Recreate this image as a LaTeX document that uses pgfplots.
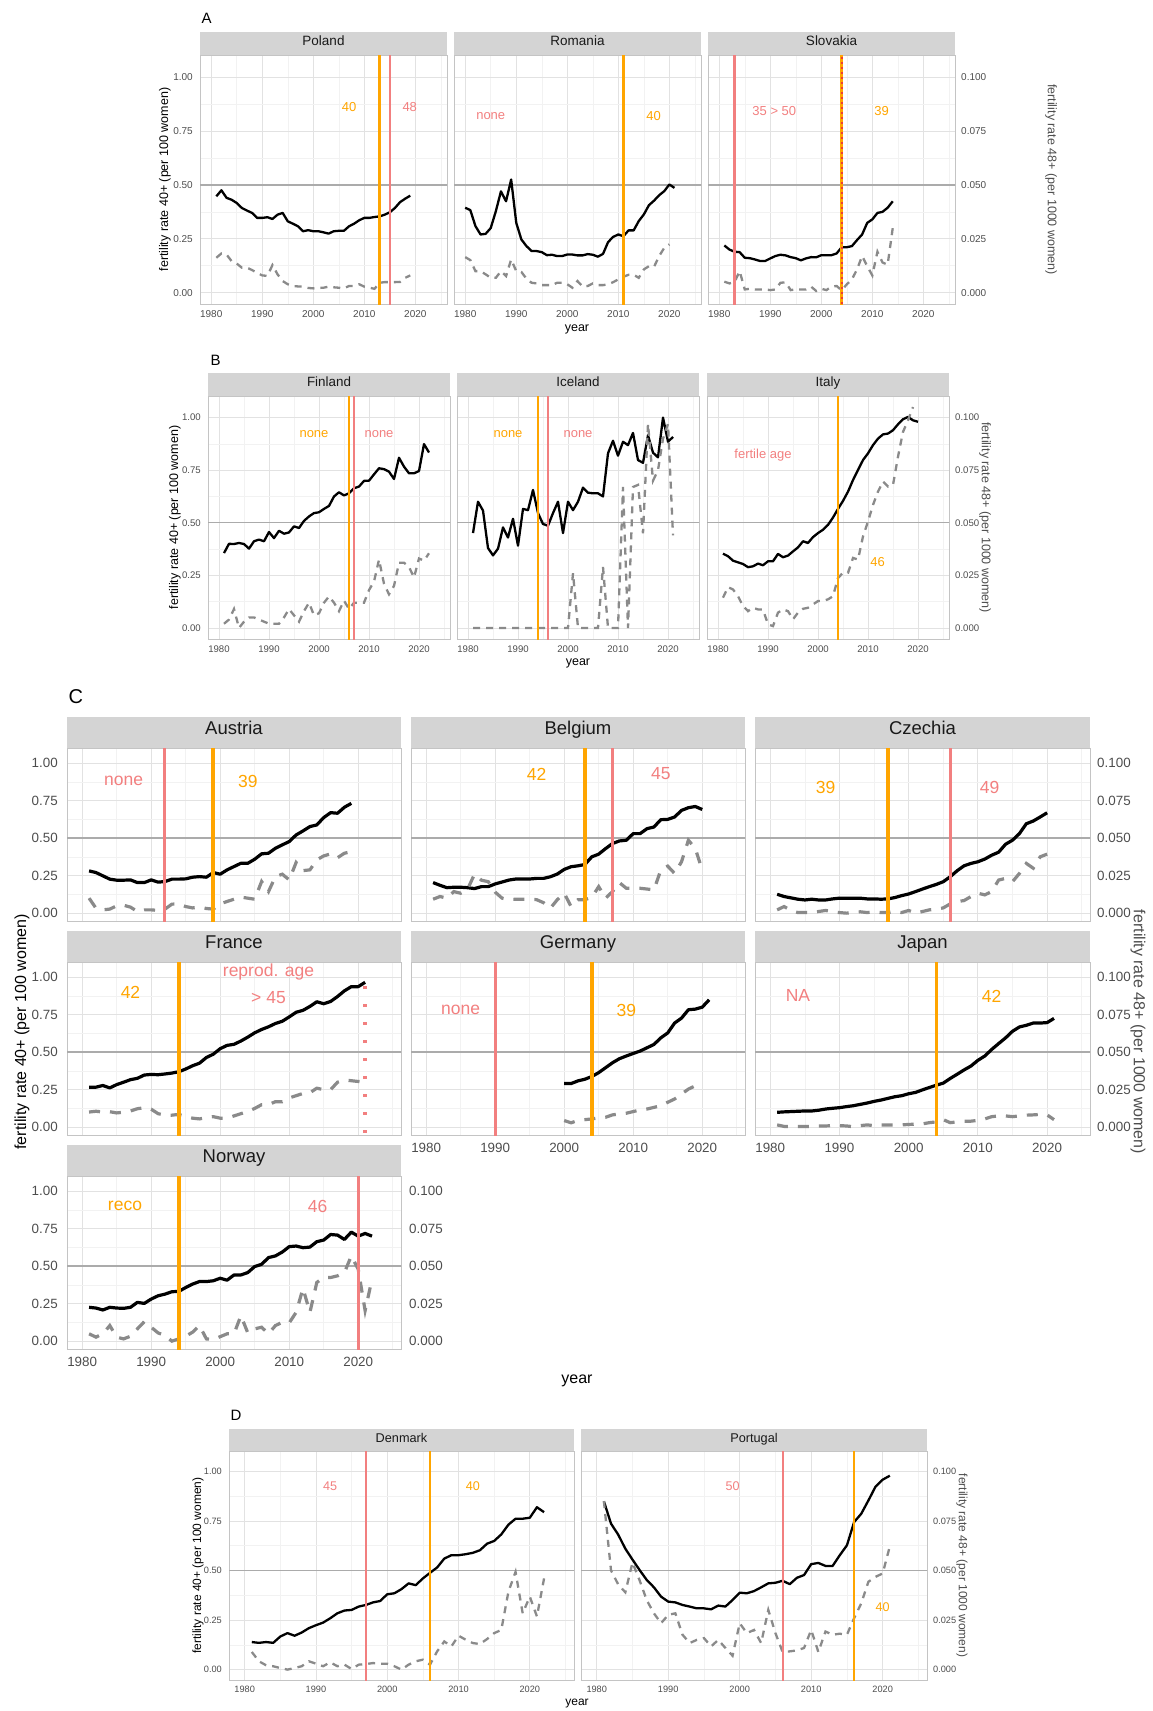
\documentclass[border=0pt]{standalone}
\usepackage{fontspec}
\setmainfont{Liberation Sans}
\usepackage{pgfplots}
\pgfplotsset{compat=1.18}
\definecolor{vorange}{HTML}{FFA500}
\definecolor{vred}{HTML}{F27F7F}
\definecolor{vdot}{HTML}{F03C32}
\definecolor{dgray}{HTML}{8A8A8A}
\definecolor{stripfill}{HTML}{D4D4D4}
\definecolor{gridmaj}{HTML}{E2E2E2}
\definecolor{gridmin}{HTML}{F2F2F2}
\definecolor{bordc}{HTML}{C4C4C4}
\definecolor{hlc}{HTML}{ABABAB}
\definecolor{ticktxt}{HTML}{4D4D4D}
\newcommand{\fs}[1]{\fontsize{#1}{#1}\selectfont}
\newcommand{\annfont}{\fs{13}}
\newcommand{\vlw}{2.6pt}
\newcommand{\vrw}{2.2pt}
\newcommand{\hlw}{1.3pt}
\newcommand{\hl}{\addplot[draw=hlc, line width=\hlw] coordinates {(1970,0.5)(2030,0.5)};}
\newcommand{\vo}[1]{\addplot[draw=vorange, line width=\vlw] coordinates {(#1,-0.1)(#1,1.2)};}
\newcommand{\vr}[1]{\addplot[draw=vred, line width=\vrw] coordinates {(#1,-0.1)(#1,1.2)};}
\newcommand{\ann}[4]{\node[text=#1, font=\annfont] at (axis cs:#2,#3) {#4};}
\tikzset{
  solA/.style={black, line width=2.3pt, line join=round, mark=none},
  dasA/.style={dgray, line width=2.3pt, dash pattern=on 7pt off 6pt, mark=none},
  solC/.style={black, line width=3.2pt, line join=round, mark=none},
  dasC/.style={dgray, line width=3.2pt, dash pattern=on 11pt off 10pt, mark=none},
}
\pgfplotsset{
  facet/.style={
    scale only axis, anchor=south west, clip mode=individual,
    xmin=1977.8, xmax=2026.2, ymin=-0.0525, ymax=1.1025,
    xtick={1980,1990,2000,2010,2020},
    minor xtick={1985,1995,2005,2015,2025},
    ytick={0,0.25,0.5,0.75,1},
    minor ytick={0.125,0.375,0.625,0.875},
    xticklabels={1980,1990,2000,2010,2020},
    yticklabels={0.00,0.25,0.50,0.75,1.00},
    grid=both,
    major grid style={draw=gridmaj, line width=0.8pt},
    minor grid style={draw=gridmin, line width=0.5pt},
    axis line style={draw=bordc, line width=0.8pt},
    major tick length=0pt, minor tick length=0pt,
    tick label style={text=ticktxt, inner sep=0pt},
    every axis title/.style={at={(0.5,1)}, anchor=south, fill=stripfill, inner sep=0pt, text=black!90, text height=0.72em, text depth=0.2em},
  },
  nox/.style={xticklabels={}},
  noy/.style={yticklabels={}},
  rlab/.style={yticklabel pos=right, yticklabels={0.000,0.025,0.050,0.075,0.100}},
  sA/.style={width=247pt, height=249pt, tick label style={font=\fs{10}},
    title style={font=\fs{13.5}, minimum height=23pt, minimum width=247pt},
    xticklabel style={anchor=center, yshift=-10pt}},
  sB/.style={width=242pt, height=243pt, tick label style={font=\fs{9.6}},
    title style={font=\fs{13.4}, minimum height=23pt, minimum width=242pt},
    xticklabel style={anchor=center, yshift=-10pt}},
  sC/.style={width=334pt, height=173pt, tick label style={font=\fs{13.4}},
    title style={font=\fs{18.5}, minimum height=31pt, minimum width=334pt},
    xticklabel style={anchor=center, yshift=-13pt}},
  sD/.style={width=345pt, height=229pt, tick label style={font=\fs{9.2}},
    title style={font=\fs{12.7}, minimum height=22pt, minimum width=345pt},
    xticklabel style={anchor=center, yshift=-9pt}},
  ylA/.style={yticklabel style={anchor=east, xshift=-7pt}},
  yrA/.style={rlab, yticklabel style={anchor=west, xshift=6pt}},
  ylC/.style={yticklabel style={anchor=east, xshift=-9pt}},
  yrC/.style={rlab, yticklabel style={anchor=west, xshift=7pt}},
}
\begin{document}
\begin{tikzpicture}
\path[use as bounding box] (0pt,0pt) rectangle (1153pt,-1711pt);
% ================= PANEL A =================
\node[anchor=west, font=\fs{15}] at (198pt,-18pt) {A};
\node[rotate=90, font=\fs{12.5}] at (165pt,-179.5pt) {fertility rate 40+ (per 100 women)};
\node[rotate=-90, font=\fs{12.5}, text=ticktxt] at (1051pt,-179.5pt) {fertility rate 48+ (per 1000 women)};
\node[font=\fs{12.5}] at (577pt,-329pt) {year};
\begin{axis}[facet, sA, ylA, at={(200pt,-304pt)}, title={Poland}]
\hl
\addplot[solA] coordinates {(1981,.447)(1982,.475)(1983,.44)(1984,.431)(1985,.416)(1986,.393)(1987,.381)(1988,.37)(1989,.347)(1990,.347)(1991,.35)(1992,.342)(1993,.362)(1994,.37)(1995,.331)(1996,.32)(1997,.308)(1998,.285)(1999,.29)(2000,.285)(2001,.285)(2002,.28)(2003,.274)(2004,.285)(2005,.287)(2006,.287)(2007,.308)(2008,.32)(2009,.336)(2010,.347)(2011,.347)(2012,.351)(2013,.354)(2014,.362)(2015,.373)(2016,.393)(2017,.42)(2018,.436)(2019,.45)};
\addplot[dasA] coordinates {(1981,.162)(1982,.182)(1983,.177)(1984,.146)(1985,.135)(1986,.116)(1987,.116)(1988,.105)(1989,.092)(1990,.08)(1991,.078)(1992,.128)(1993,.085)(1994,.054)(1995,.039)(1996,.031)(1997,.029)(1998,.028)(1999,.022)(2000,.02)(2001,.022)(2002,.023)(2003,.028)(2004,.025)(2005,.023)(2006,.02)(2007,.031)(2008,.031)(2009,.039)(2010,.028)(2011,.023)(2012,.018)(2013,.046)(2014,.049)(2015,.049)(2016,.049)(2017,.05)(2018,.069)(2019,.08)};
\vo{2013}\vr{2015}
\ann{vorange}{2007}{0.863}{40}
\ann{vred}{2018.9}{0.863}{48}
\end{axis}
\begin{axis}[facet, sA, noy, at={(454pt,-304pt)}, title={Romania}]
\hl
\addplot[solA] coordinates {(1980,.394)(1981,.383)(1982,.309)(1983,.27)(1984,.273)(1985,.30)(1986,.378)(1987,.47)(1988,.424)(1989,.525)(1990,.324)(1991,.247)(1992,.216)(1993,.193)(1994,.193)(1995,.188)(1996,.174)(1997,.176)(1998,.17)(1999,.17)(2000,.177)(2001,.177)(2002,.173)(2003,.173)(2004,.179)(2005,.176)(2006,.167)(2007,.18)(2008,.235)(2009,.259)(2010,.27)(2011,.262)(2012,.289)(2013,.289)(2014,.332)(2015,.363)(2016,.406)(2017,.427)(2018,.452)(2019,.471)(2020,.502)(2021,.486)};
\addplot[dasA] coordinates {(1980,.165)(1981,.151)(1982,.100)(1983,.100)(1984,.085)(1985,.069)(1986,.069)(1987,.100)(1988,.077)(1989,.154)(1990,.100)(1991,.096)(1992,.065)(1993,.046)(1994,.043)(1995,.035)(1996,.035)(1997,.035)(1998,.046)(1999,.046)(2000,.039)(2001,.023)(2002,.054)(2003,.028)(2004,.031)(2005,.043)(2006,.035)(2007,.035)(2008,.039)(2009,.049)(2010,.062)(2011,.074)(2012,.083)(2013,.083)(2014,.069)(2015,.108)(2016,.123)(2017,.120)(2018,.170)(2019,.208)(2020,.224)};
\vo{2011}
\ann{vred}{1985}{0.82}{none}
\ann{vorange}{2016.9}{0.82}{40}
\end{axis}
\begin{axis}[facet, sA, yrA, at={(708pt,-304pt)}, title={Slovakia}]
\hl
\addplot[solA] coordinates {(1981,.219)(1982,.20)(1983,.19)(1984,.188)(1985,.162)(1986,.16)(1987,.154)(1988,.147)(1989,.147)(1990,.159)(1991,.17)(1992,.176)(1993,.173)(1994,.165)(1995,.16)(1996,.15)(1997,.159)(1998,.165)(1999,.164)(2000,.174)(2001,.174)(2002,.174)(2003,.182)(2004,.211)(2005,.211)(2006,.216)(2007,.244)(2008,.27)(2009,.324)(2010,.34)(2011,.37)(2012,.375)(2013,.394)(2014,.424)};
\addplot[dasA] coordinates {(1981,.051)(1982,.043)(1983,.049)(1984,.10)(1985,.015)(1986,.018)(1987,.015)(1988,.015)(1989,.015)(1990,.012)(1991,.015)(1992,.046)(1993,.048)(1994,.012)(1995,.015)(1996,.015)(1997,.015)(1998,.028)(1999,.008)(2000,.018)(2001,.012)(2002,.028)(2003,.031)(2004,.011)(2005,.039)(2006,.062)(2007,.108)(2008,.17)(2009,.123)(2010,.08)(2011,.19)(2012,.14)(2013,.13)(2014,.30)};
\vr{1983}\vo{2004}
\addplot[draw=vdot, line width=1.6pt, dash pattern=on 2pt off 3pt] coordinates {(2004,-0.1)(2004,1.2)};
\ann{vred}{1990.8}{0.844}{35 > 50}
\ann{vorange}{2011.8}{0.844}{39}
\end{axis}
% ================= PANEL B =================
\node[anchor=west, font=\fs{15}] at (207pt,-360pt) {B};
\node[rotate=90, font=\fs{12.5}] at (175pt,-517.5pt) {fertility rate 40+ (per 100 women)};
\node[rotate=-90, font=\fs{12.5}, text=ticktxt] at (985pt,-517.5pt) {fertility rate 48+ (per 1000 women)};
\node[font=\fs{12.5}] at (578pt,-663pt) {year};
\begin{axis}[facet, sB, ylA, at={(208pt,-639pt)}, title={Finland}]
\hl
\addplot[solA] coordinates {(1981,.356)(1982,.40)(1983,.399)(1984,.404)(1985,.399)(1986,.377)(1987,.412)(1988,.42)(1989,.412)(1990,.456)(1991,.427)(1992,.462)(1993,.448)(1994,.454)(1995,.483)(1996,.475)(1997,.509)(1998,.53)(1999,.546)(2000,.55)(2001,.566)(2002,.58)(2003,.625)(2004,.645)(2005,.63)(2006,.64)(2007,.664)(2008,.672)(2009,.699)(2010,.70)(2011,.73)(2012,.759)(2013,.755)(2014,.743)(2015,.708)(2016,.809)(2017,.767)(2018,.735)(2019,.735)(2020,.746)(2021,.874)(2022,.834)};
\addplot[dasA] coordinates {(1981,.02)(1982,.04)(1983,.09)(1984,0)(1985,.03)(1986,.05)(1987,.05)(1988,.04)(1989,.03)(1990,.02)(1991,.02)(1992,.02)(1993,.05)(1994,.09)(1995,.06)(1996,.03)(1997,.08)(1998,.12)(1999,.06)(2000,.07)(2001,.12)(2002,.15)(2003,.12)(2004,.08)(2005,.13)(2006,.09)(2007,.12)(2008,.12)(2009,.12)(2010,.18)(2011,.22)(2012,.325)(2013,.21)(2014,.16)(2015,.2)(2016,.31)(2017,.31)(2018,.29)(2019,.24)(2020,.33)(2021,.32)(2022,.355)};
\vo{2006}\vr{2007}
\ann{vorange}{1999}{0.92}{none}
\ann{vred}{2012}{0.92}{none}
\end{axis}
\begin{axis}[facet, sB, noy, at={(457pt,-639pt)}, title={Iceland}]
\hl
\addplot[solA] coordinates {(1981,.451)(1982,.60)(1983,.558)(1984,.38)(1985,.345)(1986,.377)(1987,.478)(1988,.43)(1989,.519)(1990,.391)(1991,.566)(1992,.56)(1993,.656)(1994,.546)(1995,.494)(1996,.486)(1997,.546)(1998,.60)(1999,.451)(2000,.60)(2001,.56)(2002,.60)(2003,.667)(2004,.643)(2005,.64)(2006,.64)(2007,.625)(2008,.83)(2009,.89)(2010,.819)(2011,.885)(2012,.869)(2013,.927)(2014,.798)(2015,.785)(2016,.916)(2017,.833)(2018,.811)(2019,1.00)(2020,.885)(2021,.908)};
\addplot[dasA] coordinates {(1981,0)(1982,0)(1983,0)(1984,0)(1985,0)(1986,0)(1987,0)(1988,0)(1989,0)(1990,0)(1991,0)(1992,0)(1993,0)(1994,0)(1995,0)(1996,0)(1997,0)(1998,0)(1999,0)(2000,0)(2001,.26)(2002,0)(2003,0)(2004,0)(2005,0)(2006,0)(2007,.29)(2008,0)(2009,0)(2010,0)(2011,.67)(2012,0)(2013,.67)(2014,.68)(2015,.45)(2016,.97)(2017,.70)(2018,.75)(2019,.90)(2020,.97)(2021,.44)};
\vo{1994}\vr{1996}
\ann{vorange}{1988}{0.92}{none}
\ann{vred}{2002}{0.92}{none}
\end{axis}
\begin{axis}[facet, sB, yrA, at={(707pt,-639pt)}, title={Italy}]
\hl
\addplot[solA] coordinates {(1981,.353)(1982,.341)(1983,.32)(1984,.312)(1985,.304)(1986,.289)(1987,.293)(1988,.306)(1989,.298)(1990,.317)(1991,.317)(1992,.352)(1993,.336)(1994,.344)(1995,.364)(1996,.383)(1997,.412)(1998,.404)(1999,.432)(2000,.451)(2001,.467)(2002,.49)(2003,.525)(2004,.566)(2005,.604)(2006,.648)(2007,.703)(2008,.751)(2009,.798)(2010,.83)(2011,.869)(2012,.90)(2013,.92)(2014,.924)(2015,.94)(2016,.968)(2017,.992)(2018,1.003)(2019,.987)(2020,.98)};
\addplot[dasA] coordinates {(1981,.144)(1982,.194)(1983,.183)(1984,.151)(1985,.104)(1986,.08)(1987,.096)(1988,.088)(1989,.088)(1990,.017)(1991,.009)(1992,.073)(1993,.088)(1994,.08)(1995,.041)(1996,.073)(1997,.091)(1998,.096)(1999,.112)(2000,.128)(2001,.128)(2002,.136)(2003,.151)(2004,.238)(2005,.262)(2006,.262)(2007,.333)(2008,.325)(2009,.435)(2010,.506)(2011,.585)(2012,.648)(2013,.696)(2014,.672)(2015,.68)(2016,.814)(2017,.932)(2018,.987)(2019,1.05)};
\vo{2004}
\ann{vred}{1989}{0.822}{fertile age}
\ann{vorange}{2011.9}{0.312}{46}
\end{axis}
% ================= PANEL C =================
\renewcommand{\annfont}{\fs{17.5}}
\renewcommand{\vlw}{3.6pt}
\renewcommand{\vrw}{3.0pt}
\renewcommand{\hlw}{1.8pt}
\node[anchor=west, font=\fs{20}] at (65pt,-697pt) {C};
\node[rotate=90, font=\fs{16}] at (22pt,-1032pt) {fertility rate 40+ (per 100 women)};
\node[rotate=-90, font=\fs{16}, text=ticktxt] at (1138pt,-1032pt) {fertility rate 48+ (per 1000 women)};
\node[font=\fs{16}] at (577pt,-1381pt) {year};
\begin{axis}[facet, sC, ylC, nox, at={(67pt,-921pt)}, title={Austria}]
\hl
\addplot[solC] coordinates {(1981,.282)(1982,.271)(1983,.249)(1984,.227)(1985,.22)(1986,.22)(1987,.222)(1988,.204)(1989,.204)(1990,.222)(1991,.207)(1992,.211)(1993,.227)(1994,.227)(1995,.229)(1996,.24)(1997,.244)(1998,.24)(1999,.271)(2000,.26)(2001,.289)(2002,.311)(2003,.333)(2004,.333)(2005,.36)(2006,.396)(2007,.40)(2008,.433)(2009,.456)(2010,.478)(2011,.522)(2012,.549)(2013,.578)(2014,.589)(2015,.638)(2016,.671)(2017,.667)(2018,.707)(2019,.733)};
\addplot[dasC] coordinates {(1981,.10)(1982,.033)(1983,.022)(1984,.027)(1985,.049)(1986,.053)(1987,.04)(1988,.011)(1989,.022)(1990,.022)(1991,.018)(1992,.027)(1993,.06)(1994,.062)(1995,.044)(1996,.035)(1997,.04)(1998,.031)(1999,.027)(2000,.062)(2001,.078)(2002,.093)(2003,.107)(2004,.10)(2005,.093)(2006,.211)(2007,.144)(2008,.244)(2009,.26)(2010,.222)(2011,.338)(2012,.284)(2013,.289)(2014,.356)(2015,.382)(2016,.396)(2017,.37)(2018,.40)(2019,.411)};
\vr{1992}\vo{1999}
\ann{vred}{1986}{0.882}{none}
\ann{vorange}{2004}{0.882}{39}
\end{axis}
\begin{axis}[facet, sC, noy, nox, at={(411pt,-921pt)}, title={Belgium}]
\hl
\addplot[solC] coordinates {(1981,.204)(1982,.186)(1983,.17)(1984,.173)(1985,.173)(1986,.17)(1987,.164)(1988,.177)(1989,.177)(1990,.195)(1991,.208)(1992,.221)(1993,.228)(1994,.228)(1995,.228)(1996,.232)(1997,.232)(1998,.243)(1999,.261)(2000,.292)(2001,.31)(2002,.316)(2003,.325)(2004,.376)(2005,.394)(2006,.431)(2007,.465)(2008,.482)(2009,.487)(2010,.531)(2011,.531)(2012,.564)(2013,.575)(2014,.624)(2015,.626)(2016,.642)(2017,.686)(2018,.704)(2019,.712)(2020,.692)};
\addplot[dasC] coordinates {(1981,.093)(1982,.111)(1983,.10)(1984,.144)(1985,.133)(1986,.16)(1987,.26)(1988,.22)(1989,.21)(1990,.14)(1991,.10)(1992,.09)(1993,.093)(1994,.093)(1995,.093)(1996,.09)(1997,.07)(1998,.033)(1999,.09)(2000,.133)(2001,.044)(2002,.09)(2003,.09)(2004,.106)(2005,.177)(2006,.10)(2007,.144)(2008,.204)(2009,.166)(2010,.166)(2011,.166)(2012,.161)(2013,.155)(2014,.288)(2015,.314)(2016,.265)(2017,.343)(2018,.487)(2019,.431)(2020,.288)};
\vo{2003}\vr{2007}
\ann{vorange}{1996}{0.929}{42}
\ann{vred}{2014}{0.929}{45}
\end{axis}
\begin{axis}[facet, sC, yrC, nox, at={(755pt,-921pt)}, width=335pt, title={Czechia}, title style={minimum width=335pt}]
\hl
\addplot[solC] coordinates {(1981,.126)(1982,.111)(1983,.102)(1984,.093)(1985,.088)(1986,.093)(1987,.088)(1988,.088)(1989,.095)(1990,.10)(1991,.10)(1992,.10)(1993,.10)(1994,.095)(1995,.095)(1996,.093)(1997,.095)(1998,.104)(1999,.117)(2000,.128)(2001,.144)(2002,.161)(2003,.177)(2004,.192)(2005,.21)(2006,.243)(2007,.283)(2008,.316)(2009,.332)(2010,.343)(2011,.361)(2012,.387)(2013,.407)(2014,.46)(2015,.487)(2016,.531)(2017,.597)(2018,.615)(2019,.642)(2020,.67)};
\addplot[dasC] coordinates {(1981,.022)(1982,.044)(1983,.018)(1984,.004)(1985,.004)(1986,.004)(1987,.011)(1988,.018)(1989,.009)(1990,.004)(1991,0)(1992,.004)(1993,.009)(1994,.004)(1995,.009)(1996,.004)(1997,.004)(1998,.011)(1999,.004)(2000,.018)(2001,0)(2002,.011)(2003,.022)(2004,.027)(2005,.035)(2006,.062)(2007,.077)(2008,.084)(2009,.111)(2010,.133)(2011,.122)(2012,.144)(2013,.221)(2014,.232)(2015,.21)(2016,.265)(2017,.332)(2018,.30)(2019,.376)(2020,.394)};
\vo{1997}\vr{2006}
\ann{vorange}{1988}{0.84}{39}
\ann{vred}{2011.7}{0.84}{49}
\end{axis}
\begin{axis}[facet, sC, ylC, nox, at={(67pt,-1135pt)}, title={France}]
\hl
\addplot[solC] coordinates {(1981,.267)(1982,.267)(1983,.278)(1984,.262)(1985,.284)(1986,.30)(1987,.317)(1988,.326)(1989,.348)(1990,.352)(1991,.35)(1992,.355)(1993,.361)(1994,.37)(1995,.388)(1996,.41)(1997,.427)(1998,.465)(1999,.487)(2000,.524)(2001,.546)(2002,.553)(2003,.575)(2004,.601)(2005,.63)(2006,.652)(2007,.67)(2008,.692)(2009,.707)(2010,.736)(2011,.767)(2012,.78)(2013,.806)(2014,.837)(2015,.824)(2016,.839)(2017,.872)(2018,.91)(2019,.938)(2020,.938)(2021,.967)};
\addplot[dasC] coordinates {(1981,.101)(1982,.106)(1983,.101)(1984,.103)(1985,.095)(1986,.10)(1987,.108)(1988,.123)(1989,.13)(1990,.12)(1991,.09)(1992,.08)(1993,.08)(1994,.085)(1995,.07)(1996,.06)(1997,.055)(1998,.065)(1999,.07)(2000,.06)(2001,.06)(2002,.075)(2003,.09)(2004,.105)(2005,.125)(2006,.15)(2007,.15)(2008,.17)(2009,.17)(2010,.195)(2011,.21)(2012,.225)(2013,.23)(2014,.26)(2015,.25)(2016,.25)(2017,.30)(2018,.315)(2019,.31)(2020,.305)(2021,.30)};
\vo{1994}
\addplot[draw=vred, line width=3.6pt, dash pattern=on 3.5pt off 14.5pt] coordinates {(2021,-0.04)(2021,1.01)};
\ann{vorange}{1987}{0.90}{42}
\ann{vred}{2007}{1.033}{reprod. age}
\ann{vred}{2007}{0.866}{> 45}
\end{axis}
\begin{axis}[facet, sC, noy, at={(411pt,-1135pt)}, title={Germany}]
\hl
\addplot[solC] coordinates {(2000,.291)(2001,.291)(2002,.309)(2003,.32)(2004,.338)(2005,.364)(2006,.397)(2007,.43)(2008,.457)(2009,.475)(2010,.492)(2011,.508)(2012,.53)(2013,.552)(2014,.596)(2015,.629)(2016,.695)(2017,.728)(2018,.784)(2019,.788)(2020,.801)(2021,.85)};
\addplot[dasC] coordinates {(2000,.044)(2001,.029)(2002,.045)(2003,.05)(2004,.055)(2005,.062)(2006,.066)(2007,.082)(2008,.088)(2009,.093)(2010,.104)(2011,.115)(2012,.121)(2013,.132)(2014,.143)(2015,.166)(2016,.188)(2017,.221)(2018,.254)(2019,.276)};
\vr{1990}\vo{2004}
\ann{vred}{1985}{0.78}{none}
\ann{vorange}{2009}{0.78}{39}
\end{axis}
\begin{axis}[facet, sC, yrC, at={(755pt,-1135pt)}, width=335pt, title={Japan}, title style={minimum width=335pt}]
\hl
\addplot[solC] coordinates {(1981,.099)(1982,.102)(1983,.104)(1984,.106)(1985,.108)(1986,.108)(1987,.113)(1988,.121)(1989,.126)(1990,.13)(1991,.137)(1992,.143)(1993,.152)(1994,.161)(1995,.172)(1996,.181)(1997,.192)(1998,.203)(1999,.21)(2000,.223)(2001,.232)(2002,.249)(2003,.265)(2004,.28)(2005,.294)(2006,.325)(2007,.353)(2008,.382)(2009,.408)(2010,.446)(2011,.475)(2012,.519)(2013,.558)(2014,.596)(2015,.64)(2016,.669)(2017,.68)(2018,.695)(2019,.695)(2020,.698)(2021,.726)};
\addplot[dasC] coordinates {(1981,.015)(1982,.005)(1983,.005)(1984,.005)(1985,.005)(1986,.005)(1987,.008)(1988,.008)(1989,.01)(1990,.01)(1991,.008)(1992,.003)(1993,.01)(1994,.015)(1995,.01)(1996,.015)(1997,.015)(1998,.015)(1999,.015)(2000,.018)(2001,.02)(2002,.022)(2003,.03)(2004,.035)(2005,.05)(2006,.03)(2007,.035)(2008,.04)(2009,.04)(2010,.045)(2011,.055)(2012,.07)(2013,.075)(2014,.075)(2015,.07)(2016,.075)(2017,.08)(2018,.082)(2019,.085)(2020,.082)(2021,.05)};
\vo{2004}
\ann{vred}{1984}{0.876}{NA}
\ann{vorange}{2012}{0.876}{42}
\end{axis}
\begin{axis}[facet, sC, ylC, at={(67pt,-1349pt)}, title={Norway}]
\hl
\addplot[solC] coordinates {(1981,.226)(1982,.221)(1983,.208)(1984,.226)(1985,.221)(1986,.219)(1987,.226)(1988,.259)(1989,.252)(1990,.281)(1991,.303)(1992,.314)(1993,.33)(1994,.332)(1995,.358)(1996,.381)(1997,.398)(1998,.398)(1999,.403)(2000,.42)(2001,.407)(2002,.442)(2003,.442)(2004,.458)(2005,.498)(2006,.513)(2007,.558)(2008,.569)(2009,.595)(2010,.631)(2011,.635)(2012,.624)(2013,.628)(2014,.664)(2015,.675)(2016,.712)(2017,.708)(2018,.679)(2019,.728)(2020,.701)(2021,.719)(2022,.701)};
\addplot[dasC] coordinates {(1981,.049)(1982,.027)(1983,.049)(1984,.104)(1985,.027)(1986,.015)(1987,.033)(1988,.082)(1989,.13)(1990,.093)(1991,.055)(1992,.038)(1993,0)(1994,.015)(1995,.033)(1996,.06)(1997,.104)(1998,.015)(1999,.011)(2000,.03)(2001,.049)(2002,.049)(2003,.17)(2004,.055)(2005,.082)(2006,.093)(2007,.049)(2008,.104)(2009,.126)(2010,.122)(2011,.192)(2012,.352)(2013,.192)(2014,.392)(2015,.425)(2016,.425)(2017,.436)(2018,.458)(2019,.569)(2020,.48)(2021,.204)(2022,.414)};
\vo{1994}\vr{2020}
\ann{vorange}{1986.2}{0.90}{reco}
\ann{vred}{2014.1}{0.90}{46}
\end{axis}
\begin{axis}[facet, sC, at={(67pt,-1349pt)}, hide x axis, axis line style={draw=none}, grid=none, rlab, yticklabel style={anchor=west, xshift=8pt}]
\addplot[draw=none] coordinates {(2000,0.5)};
\end{axis}
% ================= PANEL D =================
\renewcommand{\annfont}{\fs{12.6}}
\renewcommand{\vlw}{2.6pt}
\renewcommand{\vrw}{2.2pt}
\renewcommand{\hlw}{1.3pt}
\node[anchor=west, font=\fs{15}] at (227pt,-1415pt) {D};
\node[rotate=90, font=\fs{12}] at (198pt,-1565.5pt) {fertility rate 40+ (per 100 women)};
\node[rotate=-90, font=\fs{12}, text=ticktxt] at (962pt,-1565.5pt) {fertility rate 48+ (per 1000 women)};
\node[font=\fs{12}] at (577pt,-1703pt) {year};
\begin{axis}[facet, sD, ylA, at={(229pt,-1680pt)}, title={Denmark}]
\hl
\addplot[solA] coordinates {(1981,.139)(1982,.135)(1983,.139)(1984,.135)(1985,.167)(1986,.184)(1987,.171)(1988,.187)(1989,.209)(1990,.224)(1991,.237)(1992,.259)(1993,.284)(1994,.298)(1995,.301)(1996,.318)(1997,.326)(1998,.339)(1999,.346)(2000,.38)(2001,.385)(2002,.406)(2003,.435)(2004,.426)(2005,.46)(2006,.488)(2007,.515)(2008,.56)(2009,.577)(2010,.577)(2011,.582)(2012,.589)(2013,.602)(2014,.635)(2015,.649)(2016,.682)(2017,.731)(2018,.761)(2019,.761)(2020,.766)(2021,.819)(2022,.794)};
\addplot[dasA] coordinates {(1981,.089)(1982,.042)(1983,.022)(1984,.017)(1985,.008)(1986,0)(1987,.008)(1988,.017)(1989,.042)(1990,.03)(1991,.017)(1992,.037)(1993,.017)(1994,.025)(1995,.003)(1996,.025)(1997,.028)(1998,.033)(1999,.03)(2000,.03)(2001,.017)(2002,0)(2003,.025)(2004,.042)(2005,.05)(2006,.025)(2007,.092)(2008,.142)(2009,.117)(2010,.171)(2011,.151)(2012,.134)(2013,.129)(2014,.154)(2015,.184)(2016,.2)(2017,.393)(2018,.493)(2019,.284)(2020,.368)(2021,.268)(2022,.46)};
\vr{1997}\vo{2006}
\ann{vred}{1992}{0.923}{45}
\ann{vorange}{2012}{0.923}{40}
\end{axis}
\begin{axis}[facet, sD, yrA, at={(581pt,-1680pt)}, width=346pt, title={Portugal}, title style={minimum width=346pt}]
\hl
\addplot[solA] coordinates {(1981,.849)(1982,.736)(1983,.681)(1984,.61)(1985,.555)(1986,.502)(1987,.452)(1988,.415)(1989,.368)(1990,.343)(1991,.339)(1992,.326)(1993,.318)(1994,.309)(1995,.309)(1996,.304)(1997,.323)(1998,.318)(1999,.351)(2000,.388)(2001,.385)(2002,.396)(2003,.415)(2004,.435)(2005,.438)(2006,.448)(2007,.431)(2008,.463)(2009,.477)(2010,.532)(2011,.538)(2012,.523)(2013,.523)(2014,.577)(2015,.627)(2016,.744)(2017,.786)(2018,.853)(2019,.923)(2020,.958)(2021,.978)};
\addplot[dasA] coordinates {(1981,.85)(1982,.50)(1983,.43)(1984,.39)(1985,.54)(1986,.45)(1987,.35)(1988,.284)(1989,.234)(1990,.276)(1991,.284)(1992,.176)(1993,.134)(1994,.15)(1995,.159)(1996,.117)(1997,.15)(1998,.109)(1999,.07)(2000,.234)(2001,.184)(2002,.2)(2003,.134)(2004,.301)(2005,.184)(2006,.089)(2007,.092)(2008,.097)(2009,.109)(2010,.2)(2011,.089)(2012,.192)(2013,.176)(2014,.181)(2015,.176)(2016,.259)(2017,.334)(2018,.443)(2019,.468)(2020,.485)(2021,.622)};
\vr{2006}\vo{2016}
\ann{vred}{1999}{0.923}{50}
\ann{vorange}{2020}{0.314}{40}
\end{axis}
\end{tikzpicture}
\end{document}
